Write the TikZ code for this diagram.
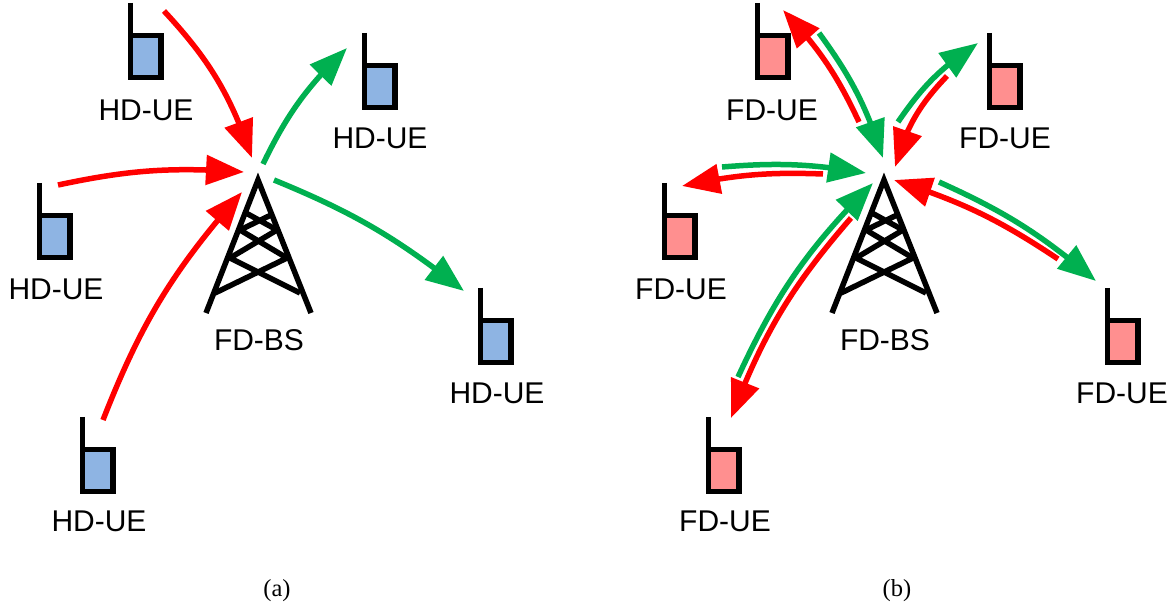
\documentclass[tikz,border=0pt]{standalone}
\usepackage{fontspec}
\setmainfont{Liberation Sans}
\newfontfamily\capfont{Liberation Serif}
\usetikzlibrary{arrows.meta,bending}
\definecolor{ar}{HTML}{FF0000}
\definecolor{ag}{HTML}{00B050}
\definecolor{hd}{HTML}{8EB4E3}
\definecolor{fd}{HTML}{FF8F8F}
\tikzset{
  lab/.style={font=\fontsize{30}{32}\selectfont,inner sep=0pt,text=black},
  sub/.style={font=\capfont\fontsize{24.5}{27}\selectfont,inner sep=0pt},
  hw/.style={draw=black,line width=5.5pt,line cap=butt,line join=miter},
  tw/.style={draw=black,line width=5.5pt,line cap=butt,line join=miter},
  red arrow/.style={draw=ar,line width=5.5pt,-{Triangle[length=38pt,width=29pt,flex=1,color=ar]}},
  green arrow/.style={draw=ag,line width=5.5pt,-{Triangle[length=38pt,width=29pt,flex=1,color=ag]}},
}
\newcommand{\phone}[7]{% name, x, y (top left), fill, labelx, labely, text
  \begin{scope}[shift={(#2,#3)}]
    \draw[hw,fill=#4] (2.7,32.5) rectangle (33,74.5);
    \draw[hw] (2.7,0) -- (2.7,34);
  \end{scope}
  \node[lab] (#1) at (#5,#6) {#7};
}
\newcommand{\tower}[2]{% name, apex x
  \begin{scope}[shift={(#2,175)}]
    \draw[tw] (-52,138) -- (0,5) -- (53,138);
    \draw[tw] (-43,118) -- (29,83) (-28,83) -- (42,118)
      (-28,83) -- (19,55) (-18,55) -- (29,83)
      (-18,55) -- (13,40) (-12,38) -- (19,55);
  \end{scope}
  \coordinate (#1) at (#2,175);
}
\begin{document}
\begin{tikzpicture}[x=1pt,y=-1pt]
\useasboundingbox (0,0) rectangle (1173,609);
% left panel
\phone{ula}{128}{3}{hd}{146}{110}{HD-UE}
\phone{ulb}{37}{183}{hd}{56}{289}{HD-UE}
\phone{ulc}{80}{417}{hd}{99}{521}{HD-UE}
\phone{uld}{362}{33}{hd}{380}{138}{HD-UE}
\phone{ule}{478}{288}{hd}{497}{393}{HD-UE}
\tower{bsa}{258}
\node[lab] (bsal) at (259,340) {FD-BS};
\coordinate (a1s) at (164,11);  \coordinate (a1t) at (252,158);
\coordinate (a2s) at (58,185);  \coordinate (a2t) at (244,172);
\coordinate (a3s) at (103,420); \coordinate (a3t) at (242,192);
\coordinate (a4s) at (263,164); \coordinate (a4t) at (347,48);
\coordinate (a5s) at (274,180); \coordinate (a5t) at (464,291);
\draw[red arrow] (a1s) to[bend left=12] (a1t);
\draw[red arrow] (a2s) to[bend left=8] (a2t);
\draw[red arrow] (a3s) to[bend left=10] (a3t);
\draw[green arrow] (a4s) to[bend left=10] (a4t);
\draw[green arrow] (a5s) to[bend left=8] (a5t);
% right panel
\phone{ura}{755}{3}{fd}{772}{110}{FD-UE}
\phone{urb}{662}{183}{fd}{681}{289}{FD-UE}
\phone{urc}{706}{417}{fd}{725}{521}{FD-UE}
\phone{urd}{987}{33}{fd}{1005}{138}{FD-UE}
\phone{ure}{1105}{288}{fd}{1122}{393}{FD-UE}
\tower{bsb}{884}
\node[lab] (bsbl) at (885,340) {FD-BS};
\coordinate (b1s) at (859,122); \coordinate (b1t) at (783,10);
\coordinate (b2s) at (819,33);  \coordinate (b2t) at (883,158);
\coordinate (b3s) at (898,122); \coordinate (b3t) at (978,43);
\coordinate (b4s) at (947,76);  \coordinate (b4t) at (895,167);
\coordinate (b5s) at (722,167); \coordinate (b5t) at (866,173);
\coordinate (b6s) at (823,174); \coordinate (b6t) at (682,186);
\coordinate (b7s) at (939,182); \coordinate (b7t) at (1096,281);
\coordinate (b8s) at (1058,259);\coordinate (b8t) at (894,180);
\coordinate (b9s) at (738,377); \coordinate (b9t) at (873,183);
\coordinate (b10s) at (851,218);\coordinate (b10t) at (731,418);
\draw[red arrow] (b1s) to[bend right=9] (b1t);
\draw[green arrow] (b2s) to[bend left=9] (b2t);
\draw[green arrow] (b3s) to[bend left=11] (b3t);
\draw[red arrow] (b4s) to[bend right=14] (b4t);
\draw[green arrow] (b5s) to[bend left=7] (b5t);
\draw[red arrow] (b6s) to[bend right=7] (b6t);
\draw[green arrow] (b7s) to[bend left=8] (b7t);
\draw[red arrow] (b8s) to[bend right=8] (b8t);
\draw[green arrow] (b9s) to[bend left=10] (b9t);
\draw[red arrow] (b10s) to[bend right=10] (b10t);
\node[sub] (capa) at (277,591) {(a)};
\node[sub] (capb) at (897,591) {(b)};
\end{tikzpicture}
\end{document}
